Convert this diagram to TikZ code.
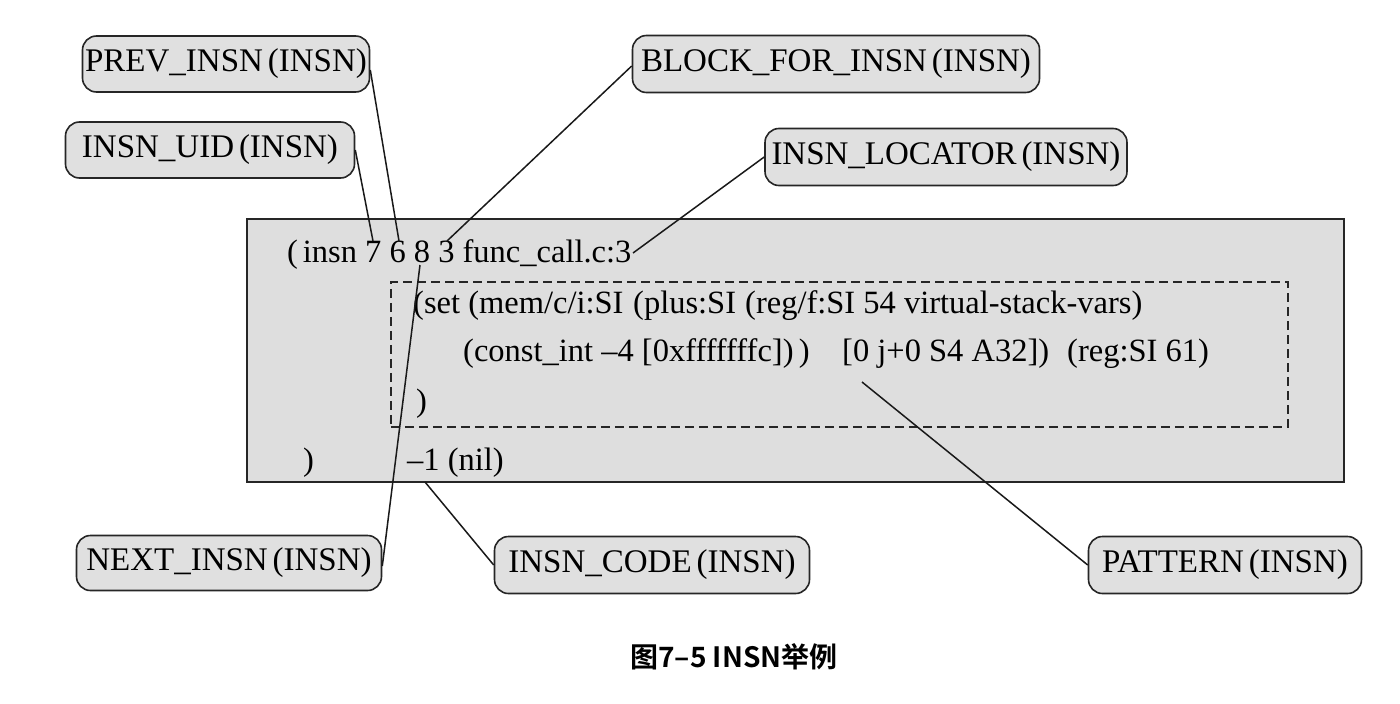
\documentclass[tikz,border=0pt]{standalone}
\usepackage{fontspec}
\setmainfont{Liberation Serif}
\newfontfamily\cjkbold[BoldFont={Noto Sans CJK SC Bold}]{Noto Sans CJK SC}
\begin{document}
\begin{tikzpicture}[x=1pt,y=-1pt,
  lbl/.style={draw=black!85,line width=1.6pt,rounded corners=14pt,fill=black!12,inner sep=0pt,font=\fontsize{33}{38}\selectfont},
  code/.style={anchor=base west,inner sep=0pt,font=\fontsize{32.5}{38}\selectfont},
  conn/.style={line width=1.5pt,black!90}]
\useasboundingbox (0,0) rectangle (1400,704);
% main box
\node[draw=black!85,line width=1.8pt,fill=black!13,minimum width=1097pt,minimum height=263pt,inner sep=0pt,anchor=north west] (main) at (246,218) {};
\node[draw=black!85,line width=1.5pt,dash pattern=on 9pt off 5pt,minimum width=897pt,minimum height=145pt,inner sep=0pt,anchor=north west] (inner) at (390,281) {};
% code text
\node[code] (l1) at (287,262) {(\hspace{0.15em}insn 7 6 8 3 func\_call.c:3};
\node[code] (l2a) at (413,313) {(set (mem/c/i:SI};
\node[code] (l2b) at (633,313) {(plus:SI};
\node[code] (l2c) at (745,313) {(reg/f:SI 54 virtual-stack-vars)};
\node[code] (l3a) at (463,361) {(const\_int –4 [0xfffffffc])\,)};
\node[code] (l3b) at (842,361) {[0 j+0 S4 A32])};
\node[code] (l3c) at (1067,361) {(reg:SI 61)};
\node[code] (l4) at (416,411) {)};
\node[code] (l5) at (303,470) {)};
\node[code] (l6) at (407,470) {–1 (nil)};
% anchor points on code text
\coordinate (p7) at (373,241);
\coordinate (p6) at (399,241);
\coordinate (p3) at (447,241);
\coordinate (pc) at (633,253);
\coordinate (p8) at (420,265);
\coordinate (pb) at (425,482);
\coordinate (pz) at (862,382);
% labels
\node[lbl,minimum width=287pt,minimum height=56pt] (prev) at (226,64) {PREV\_INSN\hspace{0.15em}(INSN)};
\node[lbl,minimum width=289pt,minimum height=56pt] (uid) at (210,150) {INSN\_UID\hspace{0.15em}(INSN)};
\node[lbl,minimum width=407pt,minimum height=57pt] (block) at (836,64) {BLOCK\_FOR\_INSN\hspace{0.15em}(INSN)};
\node[lbl,minimum width=362pt,minimum height=57pt] (loc) at (946,157) {INSN\_LOCATOR\hspace{0.15em}(INSN)};
\node[lbl,minimum width=305pt,minimum height=55pt] (next) at (229,563) {NEXT\_INSN\hspace{0.15em}(INSN)};
\node[lbl,minimum width=315pt,minimum height=57pt] (icode) at (652,565) {INSN\_CODE\hspace{0.15em}(INSN)};
\node[lbl,minimum width=273pt,minimum height=57pt] (pat) at (1225,565) {PATTERN\hspace{0.15em}(INSN)};
% connectors
\draw[conn] ([yshift=-6pt]prev.east) -- (p6);
\draw[conn] (uid.east) -- (p7);
\draw[conn] ([yshift=-2pt]block.west) -- (p3);
\draw[conn] (loc.west) -- (pc);
\draw[conn] ([yshift=-3pt]next.east) -- (p8);
\draw[conn] (icode.west) -- (pb);
\draw[conn] (pat.west) -- (pz);
% caption
\node[font=\cjkbold\bfseries\fontsize{28}{32}\selectfont] (cap) at (734,657) {图7–5 INSN举例};
\end{tikzpicture}
\end{document}
